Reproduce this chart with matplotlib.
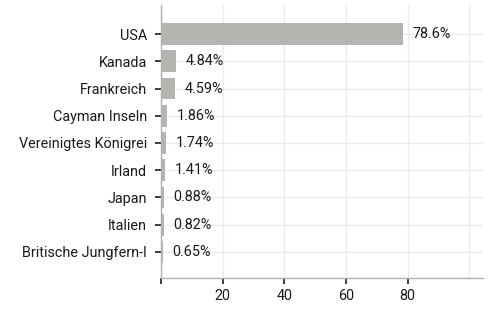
import matplotlib.pyplot as plt

plt.rcParams['font.family'] = ['Roboto', 'DejaVu Sans']

countries = ['USA', 'Kanada', 'Frankreich', 'Cayman Inseln', 'Vereinigtes Königrei',
             'Irland', 'Japan', 'Italien', 'Britische Jungfern-I']
shares = [78.6, 4.84, 4.59, 1.86, 1.74, 1.41, 0.88, 0.82, 0.65]
share_labels = ['78.6%', '4.84%', '4.59%', '1.86%', '1.74%', '1.41%', '0.88%', '0.82%', '0.65%']

fig = plt.figure(figsize=(4.89, 3.11), dpi=100)
ax = fig.add_axes([161 / 489, 33 / 311, 322 / 489, 273 / 311])

ypos = list(range(len(countries)))
bars = ax.barh(ypos, shares, height=0.8, color='#b5b4b0', zorder=2)

for y, v, lab in zip(ypos, shares, share_labels):
    ax.annotate(lab, (v, y), xytext=(7, 0), textcoords='offset points',
                va='center', ha='left', fontsize=10.4, color='#1a1a1a')

ax.set_yticks(ypos)
ax.set_yticklabels(countries)
ax.set_ylim(8.96, -1.07)
ax.set_xlim(0, 104.5)
ax.set_xticks([0, 20, 40, 60, 80])
ax.set_xticklabels(['', '20', '40', '60', '80'])
ax.set_xticks([100], minor=True)

ax.grid(True, which='both', color='#ebebeb', linewidth=1, zorder=0)
ax.set_axisbelow(True)
ax.tick_params(axis='both', which='major', length=4, width=1.2, color='#1a1a1a',
               labelsize=10.4, labelcolor='#1a1a1a')
ax.tick_params(axis='y', pad=6)
ax.tick_params(axis='x', pad=4)
ax.tick_params(which='minor', length=0)

for s in ['top', 'right']:
    ax.spines[s].set_visible(False)
for s in ['left', 'bottom']:
    ax.spines[s].set_color('#b0b0b0')
    ax.spines[s].set_linewidth(1)

fig.savefig('out.png', dpi=100)
